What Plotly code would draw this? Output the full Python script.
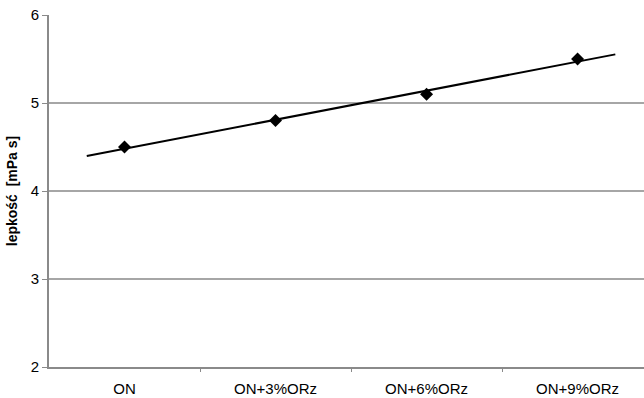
import numpy as np
import plotly.graph_objects as go

# Viscosity of fuel blends
categories = ["ON", "ON+3%ORz", "ON+6%ORz", "ON+9%ORz"]
viscosity = [4.5, 4.8, 5.1, 5.5]
y_ticks = [2, 3, 4, 5, 6]

xpos = np.arange(1, len(categories) + 1)

# Linear trend fitted to the measured points, extended a quarter step each side
slope, intercept = np.polyfit(xpos, viscosity, 1)
trend_x = np.array([xpos[0] - 0.25, xpos[-1] + 0.25])
trend_y = slope * trend_x + intercept

fig = go.Figure()
fig.add_trace(go.Scatter(
    x=trend_x, y=trend_y, mode="lines",
    line=dict(color="black", width=2), showlegend=False, hoverinfo="skip",
))
fig.add_trace(go.Scatter(
    x=xpos, y=viscosity, mode="markers",
    marker=dict(symbol="diamond", size=10, color="black"),
    showlegend=False,
))

font = dict(family="Liberation Sans, Arial, sans-serif", size=15, color="black")
title_font = dict(family="Liberation Sans, Arial, sans-serif", size=14, color="black")

fig.update_layout(
    width=644, height=398,
    margin=dict(l=49, r=0, t=15, b=31),
    paper_bgcolor="white", plot_bgcolor="white",
    font=font,
    xaxis=dict(
        range=[0.5, 4.44], tickvals=list(xpos), ticktext=categories,
        showgrid=False, zeroline=False, ticks="", ticklen=0,
        showline=True, linecolor="#8a8a8a", linewidth=2,
        tickfont=font, ticklabelstandoff=7,
    ),
    xaxis2=dict(
        overlaying="x", matches="x", side="bottom",
        tickvals=[1.5, 2.5, 3.5], showticklabels=False,
        ticks="outside", ticklen=4, tickcolor="#8a8a8a", tickwidth=1,
        showgrid=False, zeroline=False, showline=False,
    ),
    yaxis=dict(
        range=[2, 6], tickvals=y_ticks,
        showgrid=True, gridcolor="#a6a6a6", gridwidth=2,
        zeroline=False, showline=True, linecolor="#8a8a8a", linewidth=2,
        ticks="outside", ticklen=5, tickcolor="#8a8a8a",
        tickfont=font,
        title=dict(text="<b>lepkość  [mPa s]</b>", font=title_font, standoff=10),
    ),
)
# invisible trace bound to the secondary x axis so its tick marks are drawn
fig.add_trace(go.Scatter(x=[None], y=[None], xaxis="x2", showlegend=False))

fig.write_html("out.html")
